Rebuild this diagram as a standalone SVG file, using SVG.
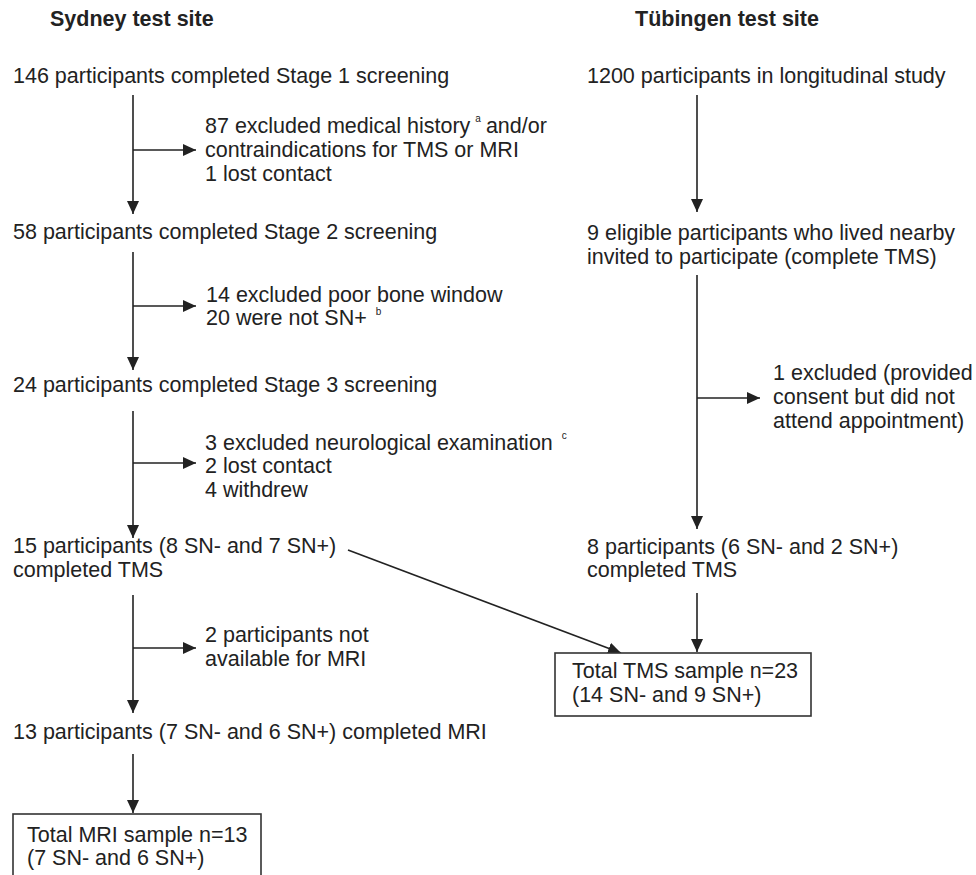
<svg xmlns="http://www.w3.org/2000/svg" width="976" height="875" viewBox="0 0 976 875">
<style>
text{font-family:"Liberation Sans",Arial,sans-serif;font-size:21.5px;fill:#222}
.t{font-weight:bold}
.sup{font-size:10px}
.ln{stroke:#222;stroke-width:1.6;fill:none}
.box{stroke:#333;stroke-width:1.6;fill:#fff}
</style>
<defs>
<marker id="ah" markerUnits="userSpaceOnUse" markerWidth="14" markerHeight="12" refX="13" refY="6" orient="auto">
<path d="M0,0 L13,6 L0,12 Z" fill="#222"/>
</marker>
</defs>
<rect width="976" height="875" fill="#fff"/>
<g id="titles">
<text class="t" x="50" y="26">Sydney test site</text>
<text class="t" x="635" y="26">Tübingen test site</text>
</g>
<g id="connectors">
<line class="ln" x1="133" y1="95" x2="133" y2="214" marker-end="url(#ah)"/>
<line class="ln" x1="133" y1="150" x2="196" y2="150" marker-end="url(#ah)"/>
<line class="ln" x1="133" y1="252" x2="133" y2="370" marker-end="url(#ah)"/>
<line class="ln" x1="133" y1="306" x2="196" y2="306" marker-end="url(#ah)"/>
<line class="ln" x1="133" y1="411" x2="133" y2="538" marker-end="url(#ah)"/>
<line class="ln" x1="133" y1="463" x2="196" y2="463" marker-end="url(#ah)"/>
<line class="ln" x1="133" y1="595" x2="133" y2="713" marker-end="url(#ah)"/>
<line class="ln" x1="133" y1="648" x2="196" y2="648" marker-end="url(#ah)"/>
<line class="ln" x1="133" y1="754" x2="133" y2="813" marker-end="url(#ah)"/>
<line class="ln" x1="348" y1="550" x2="621" y2="653" marker-end="url(#ah)"/>
<line class="ln" x1="697" y1="95" x2="697" y2="212" marker-end="url(#ah)"/>
<line class="ln" x1="697" y1="275" x2="697" y2="529" marker-end="url(#ah)"/>
<line class="ln" x1="697" y1="398" x2="760" y2="398" marker-end="url(#ah)"/>
<line class="ln" x1="697" y1="593" x2="697" y2="652" marker-end="url(#ah)"/>
</g>
<g id="s1"><text x="13" y="83">146 participants completed Stage 1 screening</text></g>
<g id="ex1">
<text x="205" y="133">87 excluded medical history<tspan class="sup" dx="5" dy="-11">a</tspan><tspan dx="5" dy="11">and/or</tspan></text>
<text x="205" y="157">contraindications for TMS or MRI</text>
<text x="205" y="181">1 lost contact</text>
</g>
<g id="s2"><text x="13" y="239">58 participants completed Stage 2 screening</text></g>
<g id="ex2">
<text x="206" y="302">14 excluded poor bone window</text>
<text x="206" y="325">20 were not SN+<tspan class="sup" dx="9" dy="-10">b</tspan></text>
</g>
<g id="s3"><text x="13" y="392">24 participants completed Stage 3 screening</text></g>
<g id="ex3">
<text x="205" y="450">3 excluded neurological examination<tspan class="sup" dx="9" dy="-11">c</tspan></text>
<text x="205" y="473">2 lost contact</text>
<text x="205" y="497">4 withdrew</text>
</g>
<g id="s4">
<text x="13" y="553">15 participants (8 SN- and 7 SN+)</text>
<text x="13" y="577">completed TMS</text>
</g>
<g id="ex4">
<text x="205" y="642">2 participants not</text>
<text x="205" y="666">available for MRI</text>
</g>
<g id="s5"><text x="13" y="739">13 participants (7 SN- and 6 SN+) completed MRI</text></g>
<g id="mri">
<rect class="box" x="13" y="814" width="248" height="80"/>
<text x="27" y="842">Total MRI sample n=13</text>
<text x="27" y="865">(7 SN- and 6 SN+)</text>
</g>
<g id="t1"><text x="587" y="83">1200 participants in longitudinal study</text></g>
<g id="t2">
<text x="587" y="240">9 eligible participants who lived nearby</text>
<text x="587" y="264">invited to participate (complete TMS)</text>
</g>
<g id="tex">
<text x="773" y="380">1 excluded (provided</text>
<text x="773" y="404">consent but did not</text>
<text x="773" y="428">attend appointment)</text>
</g>
<g id="t3">
<text x="587" y="554">8 participants (6 SN- and 2 SN+)</text>
<text x="587" y="577">completed TMS</text>
</g>
<g id="tms">
<rect class="box" x="555" y="653" width="256" height="63"/>
<text x="572" y="678">Total TMS sample n=23</text>
<text x="572" y="702">(14 SN- and 9 SN+)</text>
</g>
</svg>
